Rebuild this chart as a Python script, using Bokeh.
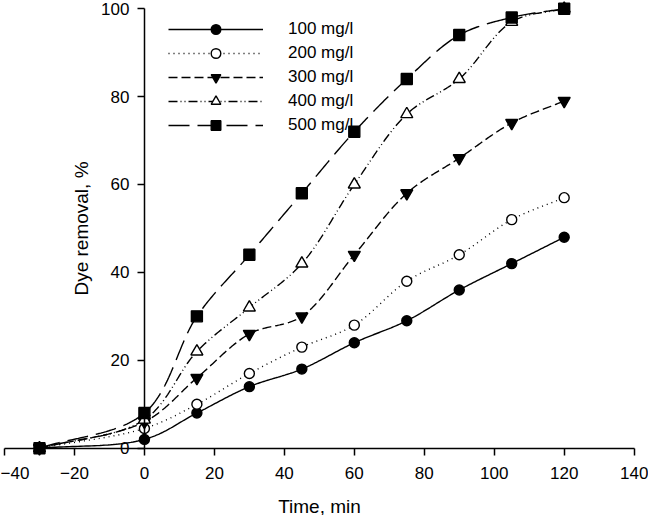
import numpy as np
from bokeh.plotting import figure
from bokeh.models import FixedTicker, Legend, LegendItem
from bokeh.embed import file_html
from bokeh.resources import INLINE

# ---- data ----
time_min = [-30, 0, 15, 30, 45, 60, 75, 90, 105, 120]
c100 = [0, 2, 8, 14, 18, 24, 29, 36, 42, 48]
c200 = [0, 4.5, 10, 17, 23, 28, 38, 44, 52, 57]
c300 = [0, 6, 16, 26, 30, 44, 58, 66, 74, 79]
c400 = [0, 6.5, 22, 32, 42, 60, 76, 84, 97, 100]
c500 = [0, 8, 30, 44, 58, 72, 84, 94, 98, 100]
labels = ["100 mg/l", "200 mg/l", "300 mg/l", "400 mg/l", "500 mg/l"]
x_ticks = [-40, -20, 0, 20, 40, 60, 80, 100, 120, 140]
y_ticks = [0, 20, 40, 60, 80, 100]

FONT = "Liberation Sans"


def smooth_curve(x, y, per_seg=40, sx=3.5, sy=4.4, alpha=0.5):
    """Centripetal Catmull-Rom curve through the data points."""
    P = np.column_stack([np.asarray(x, float) * sx, np.asarray(y, float) * sy])
    P = np.vstack([2 * P[0] - P[1], P, 2 * P[-1] - P[-2]])
    out = []
    for i in range(1, len(P) - 2):
        p0, p1, p2, p3 = P[i - 1], P[i], P[i + 1], P[i + 2]
        t0 = 0.0
        t1 = t0 + np.linalg.norm(p1 - p0) ** alpha
        t2 = t1 + np.linalg.norm(p2 - p1) ** alpha
        t3 = t2 + np.linalg.norm(p3 - p2) ** alpha
        t = np.linspace(t1, t2, per_seg, endpoint=(i == len(P) - 3))[:, None]
        a1 = (t1 - t) / (t1 - t0) * p0 + (t - t0) / (t1 - t0) * p1
        a2 = (t2 - t) / (t2 - t1) * p1 + (t - t1) / (t2 - t1) * p2
        a3 = (t3 - t) / (t3 - t2) * p2 + (t - t2) / (t3 - t2) * p3
        b1 = (t2 - t) / (t2 - t0) * a1 + (t - t0) / (t2 - t0) * a2
        b2 = (t3 - t) / (t3 - t1) * a2 + (t - t1) / (t3 - t1) * a3
        c = (t2 - t) / (t2 - t1) * b1 + (t - t1) / (t2 - t1) * b2
        out.append(c)
    C = np.vstack(out)
    return C[:, 0] / sx, C[:, 1] / sy


p = figure(width=648, height=515, output_backend="svg", toolbar_location=None,
           x_range=(-41.14, 144.1), y_range=(-15.31, 101.86),
           min_border_left=0, min_border_right=0, min_border_top=0, min_border_bottom=0)
p.outline_line_color = None
p.xgrid.visible = False
p.ygrid.visible = False
p.background_fill_color = "white"
p.border_fill_color = "white"

# axes (both drawn through the origin lines, as in the reference)
p.xaxis.ticker = FixedTicker(ticks=x_ticks)
p.yaxis.ticker = FixedTicker(ticks=y_ticks)
p.xaxis.bounds = (-40, 140)
p.yaxis.bounds = (0, 100)
p.yaxis.fixed_location = 0
p.xaxis.fixed_location = 0
for ax in (p.xaxis[0], p.yaxis[0]):
    ax.axis_line_color = "black"
    ax.axis_line_width = 1.5
    ax.major_tick_line_color = "black"
    ax.major_tick_line_width = 1.5
    ax.major_tick_in = 0
    ax.major_tick_out = 7
    ax.minor_tick_line_color = None
    ax.major_label_text_font = FONT
    ax.major_label_text_font_size = "17px"
    ax.major_label_text_color = "black"
    ax.axis_label_text_font = FONT
    ax.axis_label_text_font_size = "19px"
    ax.axis_label_text_font_style = "normal"
    ax.axis_label_text_color = "black"
p.xaxis.axis_label = "Time, min"
p.yaxis.axis_label = "Dye removal, %"
p.xaxis.major_label_standoff = 12
p.xaxis.axis_label_standoff = 13
p.yaxis.major_label_standoff = 8
p.yaxis.axis_label_standoff = 6

series = [c100, c200, c300, c400, c500]
dashes = ["solid", "1 4", "9 4", "9 3 1 3 1 3", "21 8"]
markers = ["circle", "circle", "inverted_triangle", "triangle", "square"]
fills = ["black", "white", "black", "white", "black"]
sizes = [10, 10, 12, 12, 11]

items = []
for vals, dash, mk, fc, sz, lab in zip(series, dashes, markers, fills, sizes, labels):
    cx, cy = smooth_curve(time_min, vals)
    ln = p.line(cx, cy, line_color="black", line_width=1.4, line_dash=dash)
    sc = p.scatter(time_min, vals, marker=mk, size=sz, fill_color=fc,
                   line_color="black", line_width=1.4)
    items.append(LegendItem(label=lab, renderers=[ln, sc]))

legend = Legend(items=items, location=(168, 378))
legend.border_line_color = None
legend.background_fill_alpha = 0
legend.padding = 0
legend.margin = 0
legend.spacing = 0
legend.glyph_width = 95
legend.glyph_height = 24
legend.label_height = 24
legend.label_standoff = 25
legend.label_text_font = FONT
legend.label_text_font_size = "17px"
legend.label_text_color = "black"
p.add_layout(legend, "center")

open("out.html", "w").write(file_html(p, INLINE))
